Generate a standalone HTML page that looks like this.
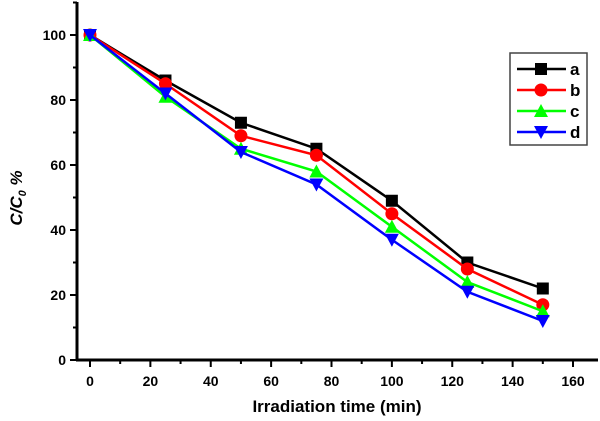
<!DOCTYPE html>
<html><head><meta charset="utf-8"><style>
body{margin:0;background:#fff;width:600px;height:416px;overflow:hidden}
text{font-family:"Liberation Sans",Arial,sans-serif;font-weight:bold}
</style></head><body>
<svg id="chart" width="600" height="416" xmlns="http://www.w3.org/2000/svg"></svg>
<script>
const xCats=[0,25,50,75,100,125,150];
const seriesA=[100,86,73,65,49,30,22];
const seriesB=[100,85,69,63,45,28,17];
const seriesC=[100,81,65,58,41,24,15];
const seriesD=[100,82,64,54,37,21,12];
const xTicks=[0,20,40,60,80,100,120,140,160];
const yTicks=[0,20,40,60,80,100];
const seriesNames=["a","b","c","d"];
const ns="http://www.w3.org/2000/svg";
const svg=document.getElementById('chart');
const X=v=>90+v*(573-90)/160, Y=v=>360-v*(360-35)/100;
function el(t,a,p){const e=document.createElementNS(ns,t);for(const k in a)e.setAttribute(k,a[k]);(p||svg).appendChild(e);return e;}
let ax=el('line',{x1:77,y1:2,x2:77,y2:361,stroke:'#000','stroke-width':3});

ax=el('line',{x1:76,y1:360,x2:598,y2:360,stroke:'#000','stroke-width':3});

for(let v=0;v<=110;v+=10){el('line',{x1:v%20?73:70,y1:Y(v),x2:77,y2:Y(v),stroke:'#000','stroke-width':2});}
yTicks.forEach(v=>{const t=el('text',{x:66,y:Y(v)+5,'text-anchor':'end','font-size':14});t.textContent=v;
});
for(let v=0;v<=170;v+=10){const x=X(v);if(x>598)break;el('line',{x1:x,y1:360,x2:x,y2:v%20?364:367,stroke:'#000','stroke-width':2});}
xTicks.forEach(v=>{const t=el('text',{x:X(v),y:386,'text-anchor':'middle','font-size':14});t.textContent=v;
});
let t=el('text',{x:337,y:412,'text-anchor':'middle','font-size':17});t.textContent='Irradiation time (min)';

t=el('text',{transform:'translate(22,198) rotate(-90)','text-anchor':'middle','font-size':17,'font-style':'italic'});
t.innerHTML='C/C<tspan font-size="11" dy="4">0</tspan><tspan dy="-4"> %</tspan>';

const colors=['#000','#f00','#0f0','#00f'];
function marker(i,x,y,g){const s=6;
 if(i==0)return el('rect',{x:x-s,y:y-s,width:2*s,height:2*s,fill:colors[i]},g);
 if(i==1)return el('circle',{cx:x,cy:y,r:s+0.5,fill:colors[i]},g);
 if(i==2)return el('polygon',{points:`${x},${y-s-1} ${x-s-1},${y+s} ${x+s+1},${y+s}`,fill:colors[i]},g);
 return el('polygon',{points:`${x},${y+s+1} ${x-s-1},${y-s} ${x+s+1},${y-s}`,fill:colors[i]},g);}
[seriesA,seriesB,seriesC,seriesD].forEach((s,i)=>{
 const g=el('g',{});
 const pts=s.map((v,j)=>X(xCats[j])+','+Y(v)).join(' ');
 el('polyline',{points:pts,fill:'none',stroke:colors[i],'stroke-width':2.5},g);
 s.forEach((v,j)=>{const m=marker(i,X(xCats[j]),Y(v),g);});
});
const lg=el('g',{});
el('rect',{x:510,y:53,width:77,height:92,fill:'#fff',stroke:'#444','stroke-width':1.5},lg);
seriesNames.forEach((n,i)=>{const y=69+i*21;
 const e=el('g',{},lg);
 el('line',{x1:517,y1:y,x2:566,y2:y,stroke:colors[i],'stroke-width':2.5},e);marker(i,541,y,e);
 const tx=el('text',{x:570,y:y+6,'font-size':17,'font-weight':'normal'},e);tx.textContent=n;});
</script>
</body></html>
